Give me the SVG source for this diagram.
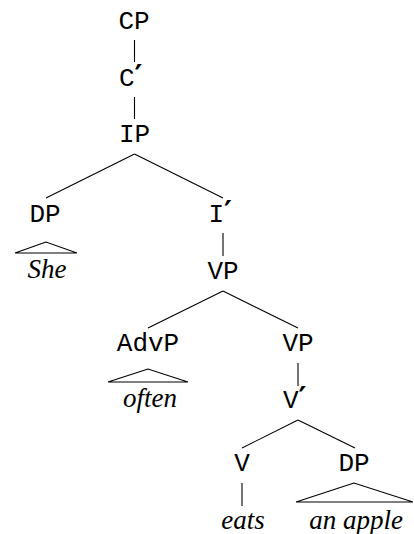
<svg xmlns="http://www.w3.org/2000/svg" width="414" height="534" viewBox="0 0 414 534">
<style>
.lab{font-family:"Courier New","Nimbus Mono PS","FreeMono","Liberation Mono","DejaVu Sans Mono",monospace;font-size:26px;fill:#000;text-anchor:middle}
.pl{text-anchor:start}
.pr{font-family:"DejaVu Serif","Liberation Serif",serif;font-size:30px;font-weight:bold}
.leaf{font-family:"Liberation Serif","DejaVu Serif",serif;font-style:italic;font-size:27px;fill:#000;text-anchor:middle}
line,polygon{stroke:#000;stroke-width:1.1;fill:none}
</style>
<rect width="414" height="534" fill="#fff"/>
<g id="connectors">
<line x1="134.5" y1="40" x2="134.5" y2="62"/>
<line x1="134.5" y1="97" x2="134.5" y2="119"/>
<line x1="134.5" y1="154" x2="46" y2="198"/>
<line x1="134.5" y1="154" x2="223" y2="198"/>
<line x1="223" y1="233" x2="223" y2="256"/>
<line x1="223" y1="291" x2="148" y2="328"/>
<line x1="223" y1="291" x2="298" y2="328"/>
<line x1="298" y1="363" x2="298" y2="386"/>
<line x1="298" y1="420" x2="242" y2="448"/>
<line x1="298" y1="420" x2="355" y2="448"/>
<line x1="242" y1="483" x2="242" y2="506"/>
</g>
<g id="CP"><text class="lab" x="134" y="29">CP</text></g>
<g id="Cbar"><text class="lab pl" x="119" y="86">C<tspan class="pr">′</tspan></text></g>
<g id="IP"><text class="lab" x="134.5" y="142">IP</text></g>
<g id="DP1"><text class="lab" x="45" y="222">DP</text></g>
<g id="She"><polygon points="46,242 15,253 77,253"/><text class="leaf" x="47" y="278">She</text></g>
<g id="Ibar"><text class="lab pl" x="208.5" y="222">I<tspan class="pr">′</tspan></text></g>
<g id="VP1"><text class="lab" x="223" y="279">VP</text></g>
<g id="AdvP"><text class="lab" x="148" y="351">AdvP</text></g>
<g id="often"><polygon points="148,369 108,382 188,382"/><text class="leaf" x="150" y="407">often</text></g>
<g id="VP2"><text class="lab" x="298" y="351">VP</text></g>
<g id="Vbar"><text class="lab pl" x="283" y="408">V<tspan class="pr">′</tspan></text></g>
<g id="V"><text class="lab" x="242" y="471">V</text></g>
<g id="eats"><text class="leaf" x="243" y="529">eats</text></g>
<g id="DP2"><text class="lab" x="354" y="471">DP</text></g>
<g id="anapple"><polygon points="354,483 296,502 413,502"/><text class="leaf" x="356" y="529">an apple</text></g>
</svg>
